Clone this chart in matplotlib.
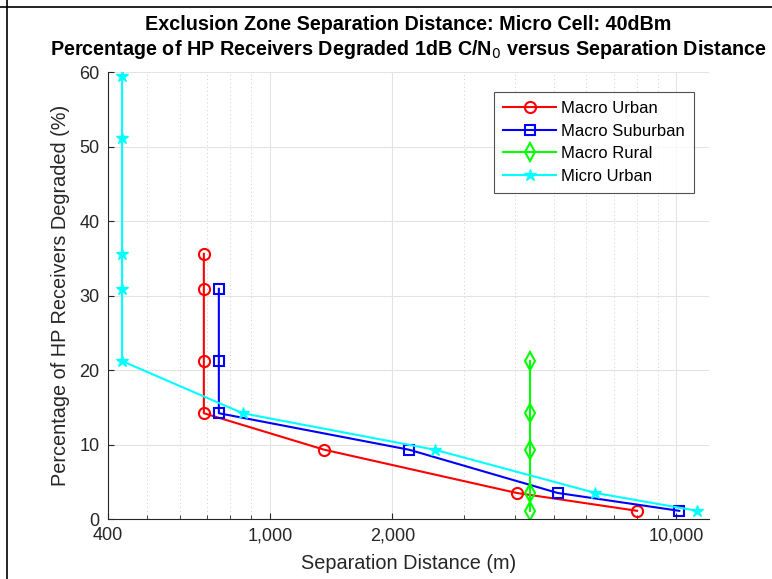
import matplotlib.pyplot as plt
from matplotlib.lines import Line2D
from matplotlib.ticker import FixedLocator, LogLocator, NullFormatter

plt.rcParams['font.family'] = ['Liberation Sans', 'DejaVu Sans']

# separation distance (m) and percentage degraded for each deployment
macro_urban_dist = [688, 688, 688, 688, 1361, 4043, 8000]
macro_urban_pct = [35.6, 30.9, 21.2, 14.2, 9.3, 3.5, 1.1]

macro_suburban_dist = [749, 749, 749, 2200, 5100, 10160]
macro_suburban_pct = [30.9, 21.2, 14.2, 9.3, 3.5, 1.1]

macro_rural_dist = [4368, 4368, 4368, 4368, 4368]
macro_rural_pct = [21.2, 14.2, 9.3, 3.5, 1.1]

micro_urban_dist = [433, 433, 433, 433, 433, 857, 2545, 6316, 11250]
micro_urban_pct = [59.5, 51.1, 35.6, 30.9, 21.2, 14.2, 9.3, 3.5, 1.1]

x_ticks = [400, 1000, 2000, 10000]
x_tick_labels = ['400', '1,000', '2,000', '10,000']
y_ticks = [0, 10, 20, 30, 40, 50, 60]

fig = plt.figure(figsize=(7.72, 5.79), dpi=100)
ax = fig.add_axes([0.140, 0.1036, 0.778, 0.772])

lw = 1.5
ax.plot(macro_urban_dist, macro_urban_pct, color='red', lw=lw, marker='o',
        ms=8, mfc='none', mew=1.5, label='Macro Urban')
ax.plot(macro_suburban_dist, macro_suburban_pct, color='blue', lw=lw, marker='s',
        ms=7, mfc='none', mew=1.5, label='Macro Suburban')
ax.plot(macro_rural_dist, macro_rural_pct, color='#00ff00', lw=lw, marker='d',
        ms=9, mfc='none', mew=1.5, label='Macro Rural')
ax.plot(micro_urban_dist, micro_urban_pct, color='cyan', lw=lw, marker='*',
        ms=9, mfc='cyan', mew=1.0, label='Micro Urban')

ax.set_xscale('log')
ax.set_xlim(400, 12000)
ax.set_ylim(0, 60)
ax.xaxis.set_major_locator(FixedLocator(x_ticks))
ax.set_xticklabels(x_tick_labels)
ax.xaxis.set_minor_locator(LogLocator(base=10, subs=range(2, 10)))
ax.xaxis.set_minor_formatter(NullFormatter())
ax.set_yticks(y_ticks)

ax.grid(True, which='major', color='#e3e3e3', lw=0.8, ls='-')
ax.grid(True, which='minor', axis='x', color='#d0d0d0', lw=0.7, ls=(0, (1, 3)))
ax.set_axisbelow(True)

for side in ['top', 'right']:
    ax.spines[side].set_visible(False)
for side in ['left', 'bottom']:
    ax.spines[side].set_color('#262626')
    ax.spines[side].set_linewidth(0.8)

ax.tick_params(which='both', direction='in', colors='#262626', labelsize=13)
ax.tick_params(which='major', length=4, width=0.8, pad=6)
ax.tick_params(which='minor', length=3, width=0.6)

ax.set_xlabel('Separation Distance (m)', fontsize=14.3, color='#262626', labelpad=7)
ax.set_ylabel('Percentage of HP Receivers Degraded (%)', fontsize=14.3,
              color='#262626', labelpad=7)
ax.set_title('Exclusion Zone Separation Distance: Micro Cell: 40dBm\n'
             'Percentage of HP Receivers Degraded 1dB C/N$_0$ versus Separation Distance',
             fontsize=14.2, fontweight='bold', pad=12, linespacing=1.28)

leg = ax.legend(loc='upper left', bbox_to_anchor=(0.642, 0.955), fontsize=12,
                frameon=True, fancybox=False, handlelength=3.2, handletextpad=0.3,
                labelspacing=0.45, borderpad=0.55, borderaxespad=0)
leg.get_frame().set_edgecolor('#262626')
leg.get_frame().set_linewidth(0.8)

# border along the top and left edge of the figure
fig.add_artist(Line2D([0, 1], [1 - 7 / 579, 1 - 7 / 579], color='black', lw=1.2,
                      transform=fig.transFigure))
fig.add_artist(Line2D([7 / 772, 7 / 772], [0, 1], color='black', lw=1.2,
                      transform=fig.transFigure))

fig.savefig('out.png', dpi=100)
